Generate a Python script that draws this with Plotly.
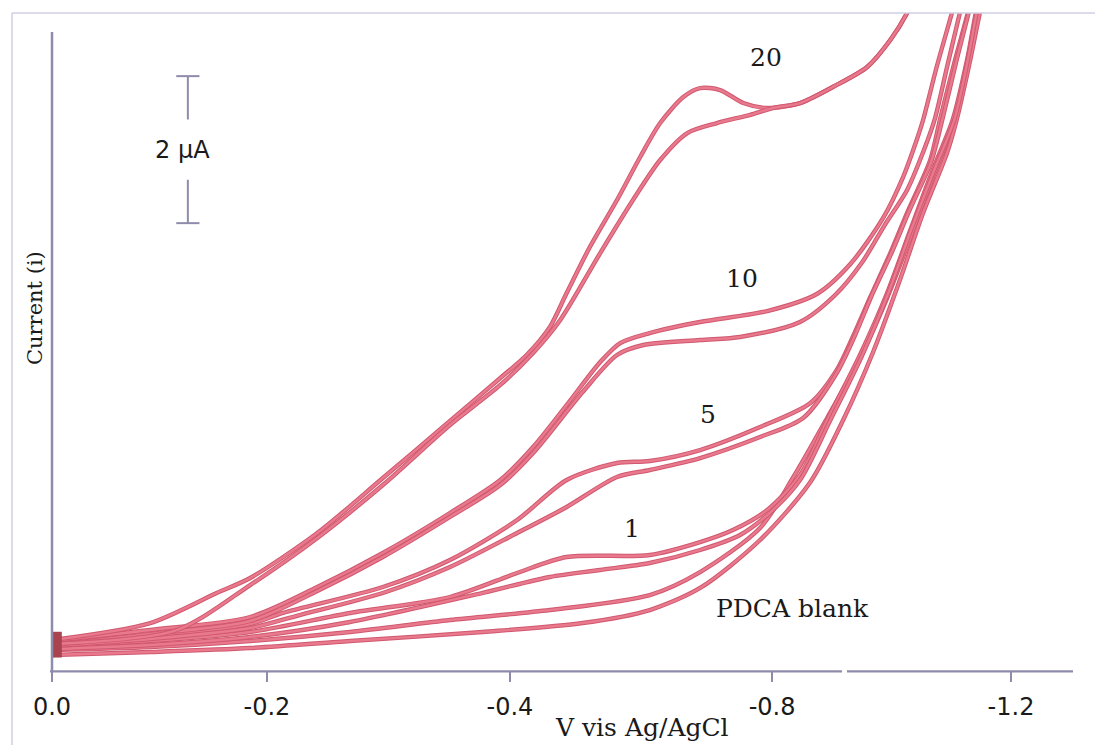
import plotly.graph_objects as go

# Linear-sweep voltammograms of PDCA with increasing analyte amounts.
# Potential in V (scan runs from 0.0 towards negative values), current in uA.
# Each trace has two successive sweeps (a, b).

blank_a_v = [0, -0.123, -0.248, -0.373, -0.498, -0.623, -0.748, -0.811, -0.886, -0.927, -0.970, -1.011, -1.045, -1.074, -1.102, -1.130, -1.147, -1.159, -1.162]
blank_a_i = [0.272, 0.313, 0.395, 0.517, 0.680, 0.816, 1.020, 1.333, 1.932, 2.612, 3.429, 4.245, 5.061, 5.878, 6.694, 7.483, 8.299, 8.939, 9.116]
blank_b_v = [0, -0.123, -0.248, -0.373, -0.539, -0.664, -0.748, -0.811, -0.886, -0.949, -0.990, -1.027, -1.061, -1.090, -1.120, -1.132, -1.149, -1.161, -1.165]
blank_b_i = [0.204, 0.245, 0.299, 0.395, 0.517, 0.639, 0.816, 1.116, 1.769, 2.558, 3.401, 4.313, 5.306, 6.218, 7.034, 7.483, 8.299, 8.939, 9.116]

c1_a_v = [0, -0.123, -0.248, -0.373, -0.498, -0.582, -0.644, -0.748, -0.811, -0.852, -0.895, -0.936, -0.970, -1.011, -1.045, -1.074, -1.102, -1.127, -1.145, -1.156, -1.160]
c1_a_i = [0.327, 0.395, 0.517, 0.776, 0.993, 1.320, 1.537, 1.565, 1.741, 1.905, 2.177, 2.653, 3.401, 4.286, 5.129, 5.986, 6.803, 7.483, 8.299, 8.939, 9.116]
c1_b_v = [0, -0.123, -0.248, -0.373, -0.539, -0.623, -0.686, -0.748, -0.811, -0.861, -0.898, -0.936, -0.974, -1.014, -1.047, -1.075, -1.104, -1.129, -1.146, -1.157, -1.161]
c1_b_i = [0.286, 0.340, 0.449, 0.653, 1.048, 1.265, 1.361, 1.456, 1.633, 1.837, 2.136, 2.585, 3.401, 4.286, 5.143, 5.986, 6.803, 7.483, 8.299, 8.939, 9.116]

c5_a_v = [0, -0.123, -0.248, -0.289, -0.414, -0.498, -0.582, -0.644, -0.707, -0.748, -0.811, -0.886, -0.949, -0.982, -1.002, -1.024, -1.049, -1.070, -1.099, -1.111, -1.130, -1.146, -1.150]
c5_a_i = [0.381, 0.463, 0.626, 0.776, 1.129, 1.497, 2.041, 2.585, 2.816, 2.844, 2.993, 3.306, 3.633, 4.082, 4.531, 5.075, 5.673, 6.218, 6.939, 7.483, 8.299, 8.939, 9.116]
c5_b_v = [0, -0.123, -0.248, -0.310, -0.414, -0.498, -0.582, -0.644, -0.707, -0.748, -0.811, -0.886, -0.940, -0.982, -1.005, -1.026, -1.051, -1.072, -1.100, -1.114, -1.132, -1.147, -1.151]
c5_b_i = [0.327, 0.422, 0.571, 0.748, 1.048, 1.401, 1.864, 2.218, 2.626, 2.721, 2.884, 3.170, 3.429, 4.041, 4.558, 5.102, 5.687, 6.231, 6.912, 7.483, 8.299, 8.939, 9.116]

c10_a_v = [0, -0.123, -0.248, -0.332, -0.414, -0.498, -0.561, -0.602, -0.644, -0.686, -0.711, -0.748, -0.811, -0.895, -0.957, -0.999, -1.040, -1.065, -1.082, -1.090, -1.107, -1.126, -1.130]
c10_a_i = [0.395, 0.544, 0.721, 1.129, 1.592, 2.136, 2.585, 3.034, 3.605, 4.190, 4.449, 4.585, 4.735, 4.884, 5.116, 5.524, 6.150, 6.707, 7.211, 7.483, 8.204, 8.939, 9.116]
c10_b_v = [0, -0.123, -0.248, -0.332, -0.414, -0.498, -0.561, -0.602, -0.664, -0.707, -0.740, -0.811, -0.861, -0.936, -0.980, -1.014, -1.042, -1.070, -1.092, -1.105, -1.120, -1.136, -1.140]
c10_b_i = [0.340, 0.490, 0.667, 1.075, 1.537, 2.082, 2.517, 2.952, 3.782, 4.286, 4.422, 4.490, 4.531, 4.735, 5.102, 5.551, 6.054, 6.531, 7.102, 7.510, 8.204, 8.939, 9.116]

c20_a_v = [0, -0.123, -0.206, -0.248, -0.332, -0.414, -0.498, -0.561, -0.594, -0.623, -0.644, -0.673, -0.707, -0.736, -0.761, -0.790, -0.811, -0.836, -0.865, -0.895, -0.936, -0.977, -1.020, -1.049, -1.070, -1.077]
c20_a_i = [0.408, 0.639, 1.048, 1.252, 1.864, 2.612, 3.388, 3.973, 4.286, 4.667, 5.129, 5.755, 6.395, 6.980, 7.442, 7.796, 7.918, 7.891, 7.714, 7.646, 7.714, 7.932, 8.204, 8.571, 8.939, 9.116]
c20_b_v = [0, -0.156, -0.248, -0.332, -0.414, -0.498, -0.561, -0.602, -0.636, -0.686, -0.727, -0.761, -0.795, -0.832, -0.873, -0.902, -0.936, -0.977, -1.020, -1.049, -1.070, -1.077]
c20_b_i = [0.354, 0.544, 1.156, 1.796, 2.517, 3.333, 3.878, 4.313, 4.762, 5.673, 6.395, 6.939, 7.306, 7.442, 7.551, 7.646, 7.714, 7.932, 8.204, 8.571, 8.939, 9.116]

# switch-on transient where every sweep starts
onset_v = [-0.006, -0.006]
onset_i = [0.17, 0.52]

# trace labels: text, potential, current
curve_labels = ["20", "10", "5", "1", "PDCA blank"]
label_v = [-0.893, -0.863, -0.821, -0.726, -0.926]
label_i = [8.33, 5.33, 3.47, 1.93, 0.84]

# x-axis ticks as printed on the voltage axis
tick_pos = [0.0, -0.269, -0.573, -0.901, -1.200]
tick_text = ["0.0", "-0.2", "-0.4", "-0.8", "-1.2"]

# 2 uA scale bar
bar_v = -0.170
bar_bottom = 6.08
bar_height = 2.0

X_RANGE = [0.0, -1.2776]
Y_RANGE = [0.0, 8.939]

EDGE = "#d0586f"
CORE = "#e9798d"
AXIS = "#8f8cab"
FRAME = "#d0cfe6"

sweeps = [
    (blank_a_v, blank_a_i), (blank_b_v, blank_b_i),
    (c1_a_v, c1_a_i), (c1_b_v, c1_b_i),
    (c5_a_v, c5_a_i), (c5_b_v, c5_b_i),
    (c10_a_v, c10_a_i), (c10_b_v, c10_b_i),
    (c20_a_v, c20_a_i), (c20_b_v, c20_b_i),
]

fig = go.Figure()
for v, i in sweeps:
    fig.add_trace(go.Scatter(x=v, y=i, mode="lines", showlegend=False, hoverinfo="skip",
                             line=dict(color=EDGE, width=4.4, shape="spline", smoothing=0.8)))
    fig.add_trace(go.Scatter(x=v, y=i, mode="lines", showlegend=False, hoverinfo="skip",
                             line=dict(color=CORE, width=2.4, shape="spline", smoothing=0.8)))

fig.add_trace(go.Scatter(x=onset_v, y=onset_i, mode="lines", showlegend=False, hoverinfo="skip",
                         line=dict(color="#a8434f", width=10)))

serif = dict(family="DejaVu Serif", size=25, color="#1a1a1a")
sans = dict(family="DejaVu Sans", size=24, color="#1a1a1a")

annotations = []
for t, v, i in zip(curve_labels, label_v, label_i):
    annotations.append(dict(x=v, y=i, xref="x", yref="y", text=t, showarrow=False,
                            font=serif, xanchor="center", yanchor="middle"))

annotations.append(dict(x=bar_v + 0.007, y=bar_bottom + bar_height / 2, xref="x", yref="y",
                        text="2 \u00b5A", showarrow=False, font=sans,
                        xanchor="center", yanchor="middle"))
annotations.append(dict(x=0.578, y=-0.087, xref="paper", yref="paper", text="V vis Ag/AgCl",
                        showarrow=False, font=serif, xanchor="center", yanchor="middle"))
annotations.append(dict(x=-0.0166, y=0.551, xref="paper", yref="paper", text="Current (i)",
                        showarrow=False, textangle=-90,
                        font=dict(family="DejaVu Serif", size=21, color="#1a1a1a"),
                        xanchor="center", yanchor="middle"))

gap = 0.41
cap = 0.0145
shapes = [
    # scale bar
    dict(type="line", xref="x", yref="y", x0=bar_v, x1=bar_v, y0=bar_bottom,
         y1=bar_bottom + bar_height / 2 - gap, line=dict(color=AXIS, width=2)),
    dict(type="line", xref="x", yref="y", x0=bar_v, x1=bar_v, y0=bar_bottom + bar_height / 2 + gap,
         y1=bar_bottom + bar_height, line=dict(color=AXIS, width=2)),
    dict(type="line", xref="x", yref="y", x0=bar_v - cap, x1=bar_v + cap, y0=bar_bottom,
         y1=bar_bottom, line=dict(color=AXIS, width=2)),
    dict(type="line", xref="x", yref="y", x0=bar_v - cap, x1=bar_v + cap, y0=bar_bottom + bar_height,
         y1=bar_bottom + bar_height, line=dict(color=AXIS, width=2)),
    # axes (the voltage axis has a small break)
    dict(type="line", xref="paper", yref="paper", x0=0, x1=0, y0=-0.002, y1=0.971,
         line=dict(color=AXIS, width=2.5)),
    dict(type="line", xref="paper", yref="paper", x0=-0.002, x1=0.7738, y0=-0.002, y1=-0.002,
         line=dict(color=AXIS, width=2.2)),
    dict(type="line", xref="paper", yref="paper", x0=0.7786, x1=1.0, y0=-0.002, y1=-0.002,
         line=dict(color=AXIS, width=2.2)),
    # outer frame
    dict(type="line", xref="paper", yref="paper", x0=-0.0392, x1=1.03, y0=1.0, y1=1.0,
         line=dict(color=FRAME, width=1.5)),
    dict(type="line", xref="paper", yref="paper", x0=-0.0392, x1=-0.0392, y0=1.0, y1=-0.12,
         line=dict(color=FRAME, width=1.5)),
]

fig.update_layout(
    width=1095, height=745,
    margin=dict(l=52, r=22, t=13, b=75),
    paper_bgcolor="white", plot_bgcolor="white",
    annotations=annotations, shapes=shapes,
    xaxis=dict(range=X_RANGE, tickmode="array", tickvals=tick_pos, ticktext=tick_text,
               ticks="outside", ticklen=11, tickwidth=2, tickcolor=AXIS,
               tickfont=sans, ticklabelstandoff=4,
               showgrid=False, zeroline=False, showline=False),
    yaxis=dict(range=Y_RANGE, showticklabels=False, ticks="", showgrid=False,
               zeroline=False, showline=False),
)

fig.write_html("out.html")
